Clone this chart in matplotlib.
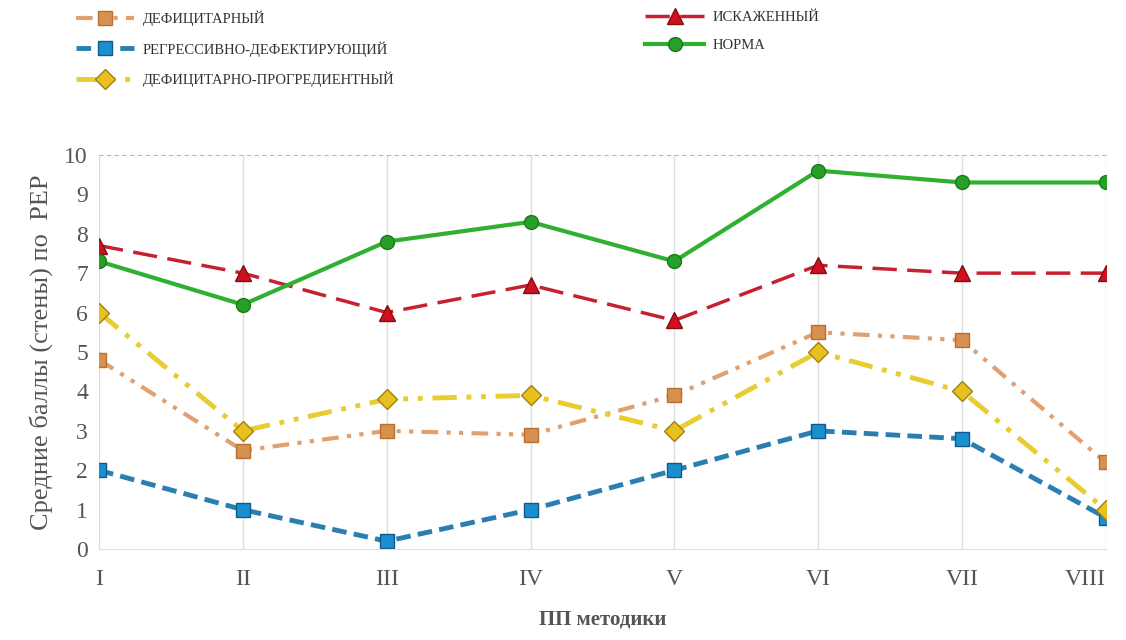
import matplotlib.pyplot as plt

plt.rcParams['font.family'] = ['Liberation Serif', 'DejaVu Serif']

# Data
methods = ['I', 'II', 'III', 'IV', 'V', 'VI', 'VII', 'VIII']
deficit = [4.8, 2.5, 3.0, 2.9, 3.9, 5.5, 5.3, 2.2]
regress = [2.0, 1.0, 0.2, 1.0, 2.0, 3.0, 2.8, 0.8]
deficit_progr = [6.0, 3.0, 3.8, 3.9, 3.0, 5.0, 4.0, 1.0]
distorted = [7.7, 7.0, 6.0, 6.7, 5.8, 7.2, 7.0, 7.0]
norm = [7.3, 6.2, 7.8, 8.3, 7.3, 9.6, 9.3, 9.3]

labels = ['ДЕФИЦИТАРНЫЙ', 'РЕГРЕССИВНО-ДЕФЕКТИРУЮЩИЙ',
          'ДЕФИЦИТАРНО-ПРОГРЕДИЕНТНЫЙ', 'ИСКАЖЕННЫЙ', 'НОРМА']

text_col = '#555555'

fig = plt.figure(figsize=(11.26, 6.4), dpi=100)
ax = fig.add_axes([0.088, 0.142, 0.894, 0.616])
x = range(len(methods))

l1, = ax.plot(x, deficit, color='#e0a070', lw=3, ls=(0, (4, 2, 1, 2, 1, 2)),
              marker='s', ms=10, mfc='#d89050', mec='#b87030', label=labels[0])
l2, = ax.plot(x, regress, color='#2a7fb0', lw=3.5, ls=(0, (3, 1.5)),
              marker='s', ms=10, mfc='#1a8fd0', mec='#105a8a', label=labels[1])
l3, = ax.plot(x, deficit_progr, color='#e8cc30', lw=3.5, ls=(0, (5, 2, 1, 2, 1, 2)),
              marker='D', ms=10, mfc='#e8c020', mec='#a08010', label=labels[2])
l4, = ax.plot(x, distorted, color='#c82030', lw=2.5, ls=(0, (7, 3)),
              marker='^', ms=12, mfc='#d01020', mec='#801010', label=labels[3])
l5, = ax.plot(x, norm, color='#30b030', lw=3, ls='-',
              marker='o', ms=10, mfc='#28a028', mec='#1a7a1a', label=labels[4])

ax.set_xlim(0, 7)
ax.set_ylim(0, 10)
ax.set_xticks(list(x))
ax.set_xticklabels(methods)
ax.set_yticks(range(0, 11))
ax.tick_params(length=0, labelsize=17, colors=text_col, pad=8)
ax.tick_params(axis='x', pad=14)
ax.grid(axis='x', color='#dddddd', lw=1)
for s in ['left', 'right']:
    ax.spines[s].set_visible(False)
ax.spines['bottom'].set_color('#dddddd')
ax.spines['top'].set_color('#bbbbbb')
ax.spines['top'].set_linestyle((0, (3, 4)))
# last label sits on the figure edge, nudge it left a bit
xl = ax.get_xticklabels()
xl[-1].set_horizontalalignment('right')
xl[-1].set_x(7.17)

ax.set_ylabel('Средние баллы (стены) по  РЕР', fontsize=19, color=text_col,
              labelpad=8)
ax.set_xlabel('ПП методики', fontsize=15, color=text_col, fontweight='bold',
              labelpad=14)

leg_kw = dict(frameon=False, fontsize=10.5, labelcolor='#333333', handlelength=4,
              labelspacing=1.0, handletextpad=0.6, borderaxespad=0)
leg1 = fig.legend(handles=[l1, l2, l3], loc='upper left',
                  bbox_to_anchor=(0.062, 0.992), **leg_kw)
leg2 = fig.legend(handles=[l4, l5], loc='upper left',
                  bbox_to_anchor=(0.568, 0.992), **leg_kw)

fig.savefig('out.png', dpi=100)
